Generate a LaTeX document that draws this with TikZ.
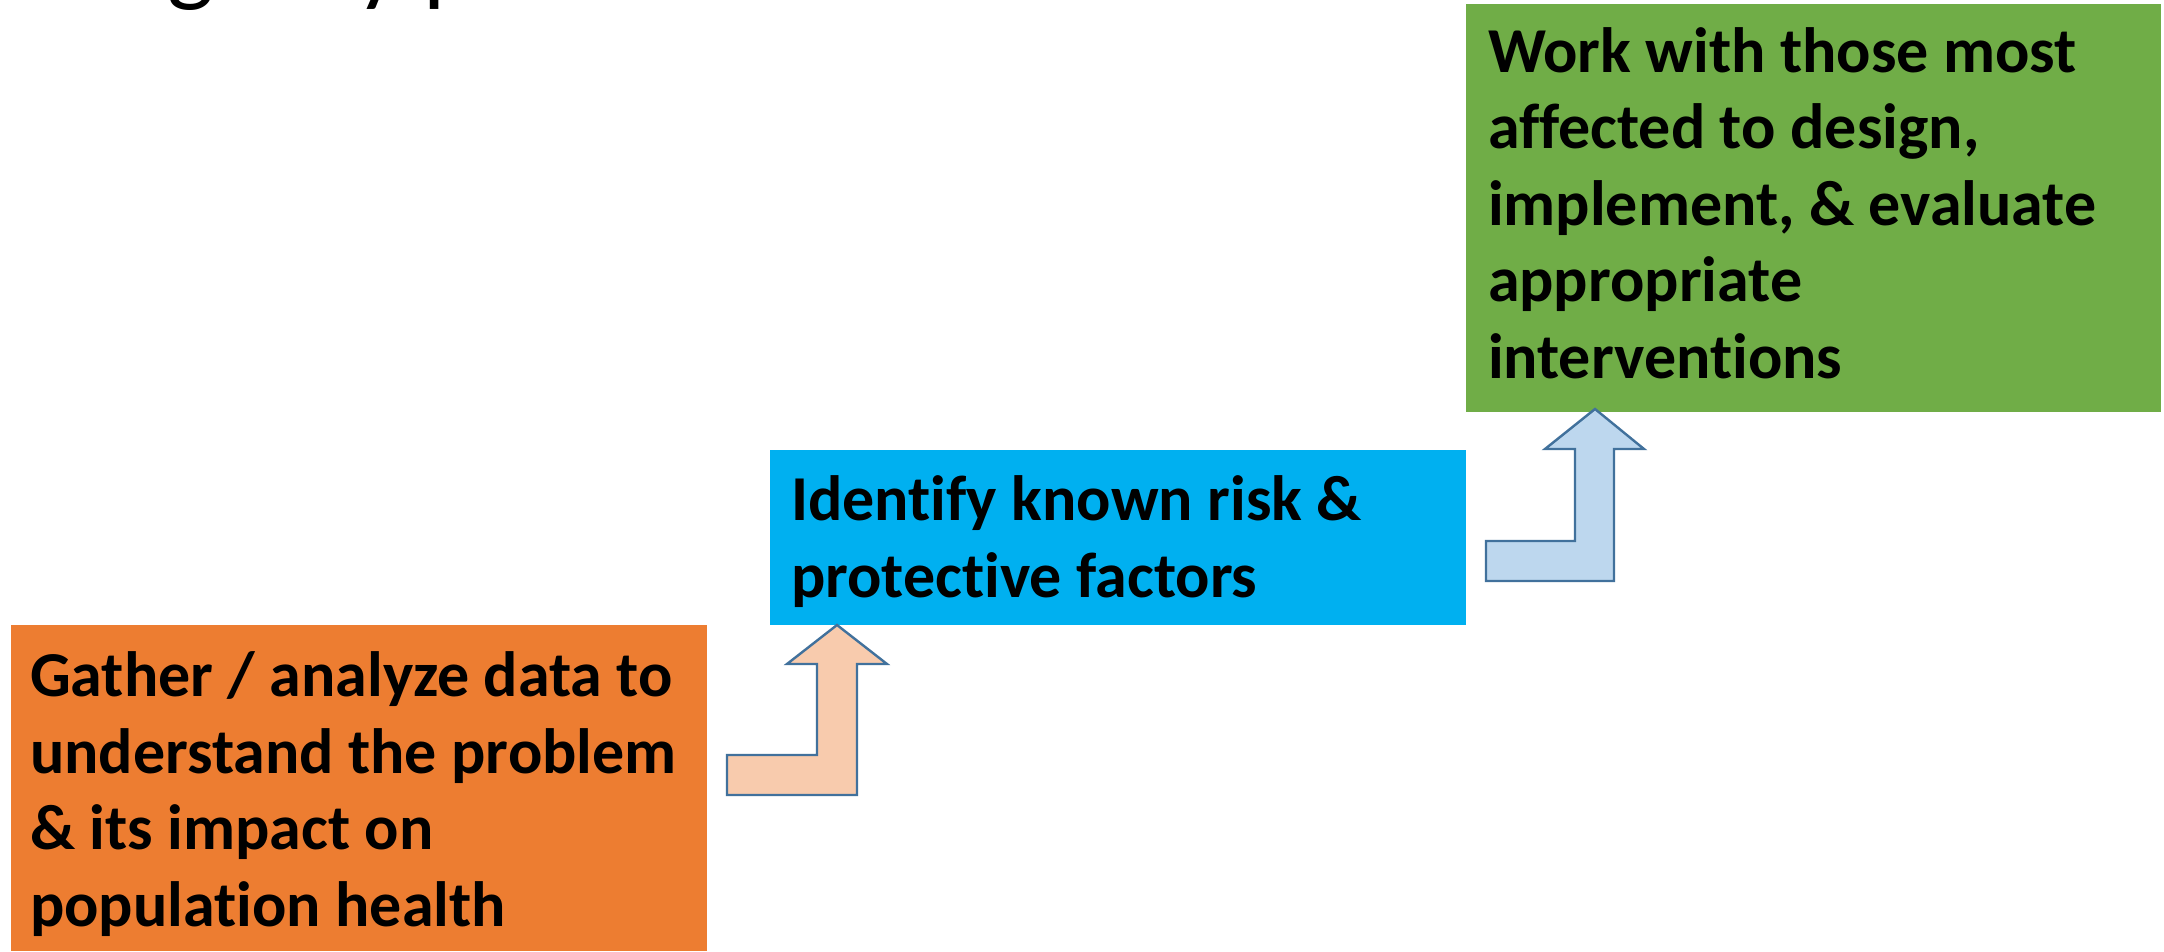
\documentclass[tikz,border=0pt]{standalone}
\usepackage{fontspec}
\setmainfont{Carlito}[Ligatures=NoCommon]
\begin{document}
\begin{tikzpicture}[x=1pt,y=-1pt,
  box/.style={draw=none,inner sep=0pt,outer sep=0pt,anchor=north west},
  label/.style={inner sep=0pt,outer sep=0pt,anchor=base west,align=left,
    font=\fontsize{64}{76.5}\selectfont\bfseries,text=black},
  bentarrow/.style={draw=arrowline,line width=2.4pt,line join=miter}]
\definecolor{orangebox}{HTML}{ED7D31}
\definecolor{bluebox}{HTML}{00B0F0}
\definecolor{greenbox}{HTML}{70AD47}
\definecolor{peach}{HTML}{F8CBAD}
\definecolor{lightblue}{HTML}{BDD7EE}
\definecolor{arrowline}{HTML}{41719C}
\useasboundingbox (0,0) rectangle (2164,951);
\fill[white] (0,0) rectangle (2164,951);
\begin{scope}
\clip (0,0) rectangle (2164,951);
\node[inner sep=0pt,anchor=base west,font=\fontsize{99}{110}\selectfont] (title) at (110,-7) {Agency p};
\end{scope}
% boxes
\node[box,fill=orangebox,minimum width=696pt,minimum height=326pt] (gather) at (11,625) {};
\node[box,fill=bluebox,minimum width=696pt,minimum height=175pt] (identify) at (770,450) {};
\node[box,fill=greenbox,minimum width=695pt,minimum height=408pt] (work) at (1466,4) {};
% texts (anchor = baseline of last line)
\node[label] (gathertext) at (30,926) {Gather / analyze data to\\understand the problem\\\& its impact on\\population health};
\node[label] (identifytext) at (791,597) {Identify known risk \&\\protective factors};
\node[label] (worktext) at (1488,378) {Work with those most\\affected to design,\\implement, \& evaluate\\appropriate\\interventions};
% bent arrows
\coordinate (tip1) at (837,625);
\coordinate (tip2) at (1595,409);
\draw[bentarrow,fill=peach] (727,755) -- (817,755) -- (817,664) -- (787,664) -- (tip1) -- (887,664) -- (857,664) -- (857,795) -- (727,795) -- cycle;
\draw[bentarrow,fill=lightblue] (1486,541) -- (1575,541) -- (1575,449) -- (1545,449) -- (tip2) -- (1644,449) -- (1614,449) -- (1614,581) -- (1486,581) -- cycle;
\end{tikzpicture}
\end{document}
